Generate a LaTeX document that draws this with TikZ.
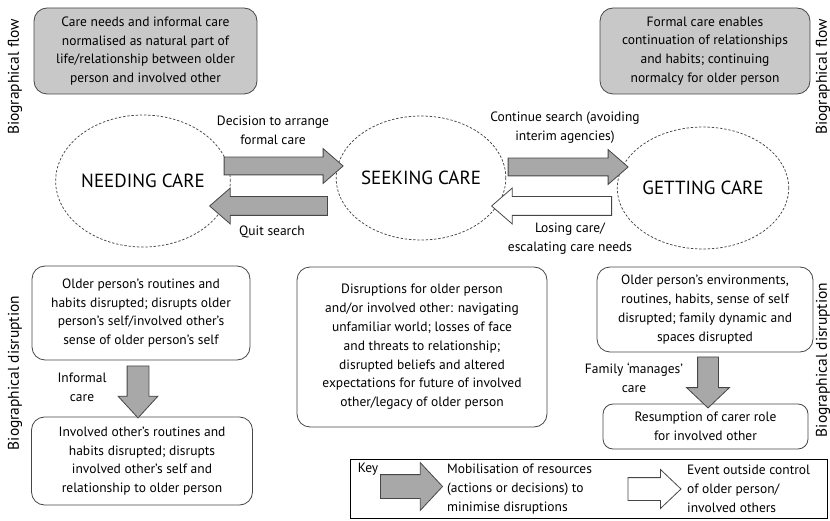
\documentclass[tikz,border=0pt]{standalone}
\usepackage{fontspec}
\setmainfont{PT Sans}
\usepackage{tikz}
\usetikzlibrary{shapes, shapes.arrows, positioning}

\definecolor{boxgrey}{RGB}{200,200,200}
\definecolor{arrowgrey}{RGB}{168,168,168}
\definecolor{linegrey}{RGB}{70,70,70}

\tikzset{
  txt/.style={font=\fontsize{13.5}{18.8}\selectfont, align=center, inner sep=0pt},
  stage/.style={ellipse, draw=linegrey, dashed, dash pattern=on 2.4pt off 1.8pt, line width=0.75pt,
    font=\fontsize{19}{22}\selectfont, inner sep=0pt},
  flowbox/.style={txt, draw=linegrey, fill=boxgrey, rounded corners=13pt, line width=0.8pt},
  disbox/.style={txt, draw=linegrey, fill=white, rounded corners=13pt, line width=0.8pt},
  blockarr/.style={single arrow, draw=linegrey, fill=arrowgrey, line width=0.8pt,
    inner xsep=0pt, inner ysep=8.5pt, single arrow tip angle=82, single arrow head extend=8.5pt},
  side/.style={font=\fontsize{15.5}{18}\selectfont, rotate=90, inner sep=0pt}
}

\begin{document}
\begin{tikzpicture}[x=1pt,y=-1pt]

\useasboundingbox (0,0) rectangle (830,521);

% biographical flow (top row)

%% side labels
\node[side] (flowL) at (15,77) {Biographical flow};
\node[side] (flowR) at (823,77) {Biographical flow};

%% grey boxes
\node[flowbox, minimum width=223pt, minimum height=86pt] (careNorm) at (145.5,51)
  {Care needs and informal care\\normalised as natural part of\\life/relationship between older\\person and involved other};
\node[flowbox, minimum width=210pt, minimum height=86pt] (formalCont) at (705,51)
  {Formal care enables\\continuation of relationships\\and habits; continuing\\normalcy for older person};

%% the three stages
\node[stage, minimum width=150pt, minimum height=132pt] (needing) at (143,181) {NEEDING CARE};
\node[stage, minimum width=152pt, minimum height=124pt] (seeking) at (421,178) {SEEKING CARE};
\node[stage, minimum width=158pt, minimum height=122pt] (getting) at (703,188) {GETTING CARE};

%% moves between stages
\node[blockarr, minimum height=119pt] (decideArr) at (278.5,166) {};
\node[blockarr, minimum height=118pt, inner ysep=9pt, rotate=180] (quitArr) at (274,206) {};
\node[blockarr, minimum height=120pt] (contArr) at (563,167) {};
\node[blockarr, minimum height=120pt, inner ysep=9pt, rotate=180, fill=white] (loseArr) at (557,206) {};

\node[txt] (decideLbl) at (273,130) {Decision to arrange\\formal care};
\node[txt] (quitLbl) at (272,232) {Quit search};
\node[txt] (contLbl) at (565,128) {Continue search (avoiding\\interim agencies)};
\node[txt] (loseLbl) at (570,239) {Losing care/\\escalating care needs};

% biographical disruption (bottom row)

%% side labels
\node[side] (disruptL) at (15,373) {Biographical disruption};
\node[side] (disruptR) at (823,360) {Biographical disruption};

%% needing care
\node[disbox, minimum width=218pt, minimum height=94pt] (opDisrupt) at (141,313)
  {Older person’s routines and\\habits disrupted; disrupts older\\person’s self/involved other’s\\sense of older person’s self};
\node[disbox, minimum width=221pt, minimum height=88pt] (ioDisrupt) at (142,461)
  {Involved other’s routines and\\habits disrupted; disrupts\\involved other’s self and\\relationship to older person};
\node[blockarr, minimum height=52pt, inner ysep=10.5pt, single arrow head extend=9pt,
  single arrow tip angle=85, rotate=-90] (informalArr) at (138,386) {};
\node[txt] (informalLbl) at (82,387) {Informal\\care};

%% seeking care
\node[disbox, minimum width=250pt, minimum height=160pt] (midDisrupt) at (422,347)
  {Disruptions for older person\\and/or involved other: navigating\\unfamiliar world; losses of face\\and threats to relationship;\\disrupted beliefs and altered\\expectations for future of involved\\other/legacy of older person};

%% getting care
\node[disbox, minimum width=216pt, minimum height=85pt] (envDisrupt) at (705,309.5)
  {Older person’s environments,\\routines, habits, sense of self\\disrupted; family dynamic and\\spaces disrupted};
\node[disbox, minimum width=205pt, minimum height=45pt, rounded corners=10pt] (carerRole) at (705.5,426.5)
  {Resumption of carer role\\for involved other};
\node[blockarr, minimum height=51pt, inner ysep=10pt, single arrow head extend=11pt,
  single arrow tip angle=93, rotate=-90] (managesArr) at (708,377.5) {};
\node[txt] (managesLbl) at (634,378) {Family ‘manages’\\care};

% key
\node[draw, line width=0.9pt, minimum width=477pt, minimum height=59pt, inner sep=0pt] (keyBox) at (588.5,488.5) {};
\node[txt, below right=4pt and 8pt of keyBox.north west] (keyLbl) {Key};
\node[blockarr, minimum height=62pt, inner ysep=11.5pt, single arrow head extend=12pt,
  single arrow tip angle=94] (keyGrey) at (406,486.5) {};
\node[blockarr, minimum height=53pt, inner ysep=11pt, single arrow head extend=8pt,
  single arrow tip angle=87, fill=white] (keyWhite) at (648.5,489) {};
\node[txt, align=left, anchor=west] (keyMob) at (447,489)
  {Mobilisation of resources\\(actions or decisions) to\\minimise disruptions};
\node[txt, align=left, anchor=west] (keyEvent) at (687,489)
  {Event outside control\\of older person/\\involved others};

\end{tikzpicture}
\end{document}
